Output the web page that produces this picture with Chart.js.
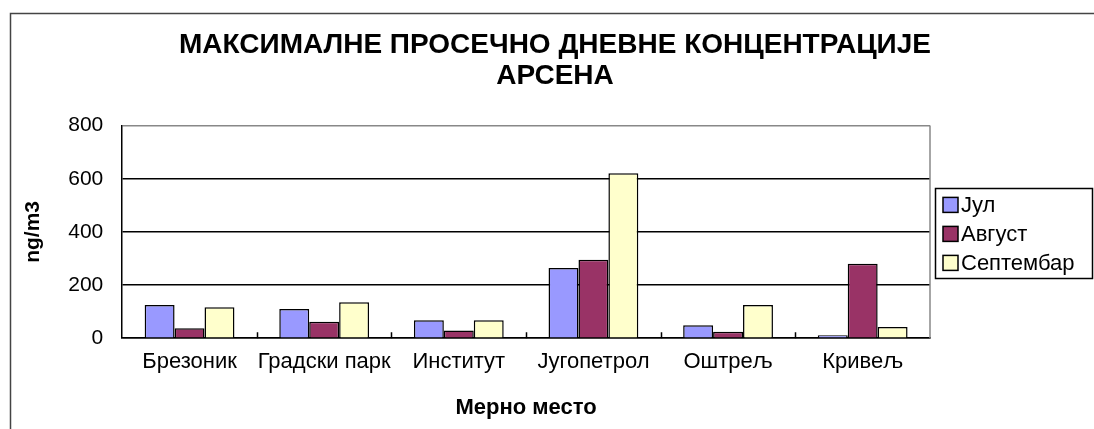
<!DOCTYPE html>
<html lang="sr">
<head>
<meta charset="UTF-8">
<title>Максималне просечно дневне концентрације арсена</title>
<script src="https://cdn.jsdelivr.net/npm/chart.js"></script>
<style>
  html, body { margin: 0; padding: 0; background: #fff; }
</style>
</head>
<body>
<canvas id="arsenChart" width="1094" height="429"></canvas>
<script>
// podaci sa grafika (ng/m3)
const mernaMesta = ['Брезоник', 'Градски парк', 'Институт', 'Југопетрол', 'Оштрељ', 'Кривељ'];
const jul = [125, 110, 68, 264, 49, 11];
const avgust = [37, 62, 29, 295, 24, 280];
const septembar = [116, 135, 68, 621, 125, 42];
const yMax = 800;
const yKorak = 200;

const FONT = 'Arial, "Liberation Sans", sans-serif';
Chart.defaults.color = '#000';
Chart.defaults.font.family = FONT;

// okvir oko celog grafika (gore i levo)
const okvir = {
  id: 'okvir',
  beforeDraw(chart) {
    const c = chart.ctx;
    c.save();
    c.strokeStyle = '#444';
    c.lineWidth = 1.5;
    c.beginPath();
    c.moveTo(10.5, chart.height);
    c.lineTo(10.5, 13.5);
    c.lineTo(chart.width, 13.5);
    c.stroke();
    c.restore();
  }
};

// desna ivica oblasti i kratke crtice izmedju kategorija
const oblast = {
  id: 'oblast',
  afterDatasetsDraw(chart) {
    const c = chart.ctx;
    const a = chart.chartArea;
    const x = chart.scales.x;
    c.save();
    c.strokeStyle = '#888';
    c.lineWidth = 1.5;
    c.beginPath();
    c.moveTo(a.right, a.top);
    c.lineTo(a.right, a.bottom);
    c.stroke();
    c.strokeStyle = '#000';
    c.beginPath();
    for (let i = 1; i < mernaMesta.length; i++) {
      const px = Math.round(x.getPixelForValue(i - 0.5)) + 0.5;
      c.moveTo(px, a.bottom);
      c.lineTo(px, a.bottom - 6);
    }
    c.stroke();
    c.restore();
  }
};

// legenda sa ramom, desno od oblasti
const legenda = {
  id: 'legenda',
  afterDraw(chart) {
    const a = chart.chartArea;
    const c = chart.ctx;
    const sets = chart.data.datasets;
    const x0 = a.right + 5;
    const sredina = (a.top + a.bottom) / 2 + 2;
    const red = 29;
    const prvi = sredina - red * (sets.length - 1) / 2;
    const poslednji = prvi + red * (sets.length - 1);
    c.save();
    c.strokeStyle = '#000';
    c.lineWidth = 1.5;
    c.strokeRect(Math.round(x0) + 0.5, Math.round(prvi - 17) + 0.5, 157, Math.round(poslednji + 15 - (prvi - 17)));
    c.font = '22px ' + FONT;
    c.textBaseline = 'middle';
    c.textAlign = 'left';
    sets.forEach((ds, i) => {
      const y = prvi + i * red;
      c.fillStyle = ds.backgroundColor;
      c.fillRect(x0 + 8, y - 7.5, 15, 15);
      c.strokeRect(x0 + 8, y - 7.5, 15, 15);
      c.fillStyle = '#000';
      c.fillText(ds.label, x0 + 26, y + 1);
    });
    c.restore();
  }
};

new Chart(document.getElementById('arsenChart'), {
  type: 'bar',
  data: {
    labels: mernaMesta,
    datasets: [
      { label: 'Јул', data: jul, backgroundColor: '#9999FF' },
      { label: 'Август', data: avgust, backgroundColor: '#993366' },
      { label: 'Септембар', data: septembar, backgroundColor: '#FFFFCC' }
    ]
  },
  options: {
    responsive: false,
    devicePixelRatio: 1,
    animation: false,
    layout: { padding: { left: 21, right: 5, top: 0, bottom: 8 } },
    datasets: {
      bar: {
        borderColor: '#000',
        borderWidth: 1.5,
        categoryPercentage: 0.667,
        barPercentage: 1
      }
    },
    plugins: {
      title: {
        display: true,
        text: ['МАКСИМАЛНЕ ПРОСЕЧНО ДНЕВНЕ КОНЦЕНТРАЦИЈЕ', 'АРСЕНА'],
        font: { size: 28, weight: 'bold', lineHeight: 1.1 },
        color: '#000',
        padding: { top: 30, bottom: 34 }
      },
      legend: { display: false },
      tooltip: { enabled: false }
    },
    scales: {
      x: {
        grid: { display: true, drawOnChartArea: false, drawTicks: false },
        border: { display: true, color: '#000', width: 1.5 },
        ticks: { font: { size: 22 }, padding: 11, maxRotation: 0, autoSkip: false },
        title: {
          display: true,
          text: 'Мерно место',
          font: { size: 22, weight: 'bold' },
          padding: { top: 8, bottom: 0 }
        }
      },
      y: {
        min: 0,
        max: yMax,
        grid: {
          color: ctx => (ctx.tick && ctx.tick.value === yMax ? '#888' : '#000'),
          lineWidth: 1.5,
          drawTicks: false
        },
        border: { display: true, color: '#000', width: 1.5 },
        ticks: { stepSize: yKorak, font: { size: 21 }, padding: 19 },
        title: {
          display: true,
          text: 'ng/m3',
          font: { size: 21, weight: 'bold' },
          padding: { top: 0, bottom: 3 }
        }
      },
      // prazan prostor desno za legendu
      mesto: {
        position: 'right',
        min: 0,
        max: yMax,
        grid: { display: false },
        border: { display: false },
        ticks: { display: false },
        afterFit: s => { s.width = 159; }
      }
    }
  },
  plugins: [okvir, oblast, legenda]
});
</script>
</body>
</html>
